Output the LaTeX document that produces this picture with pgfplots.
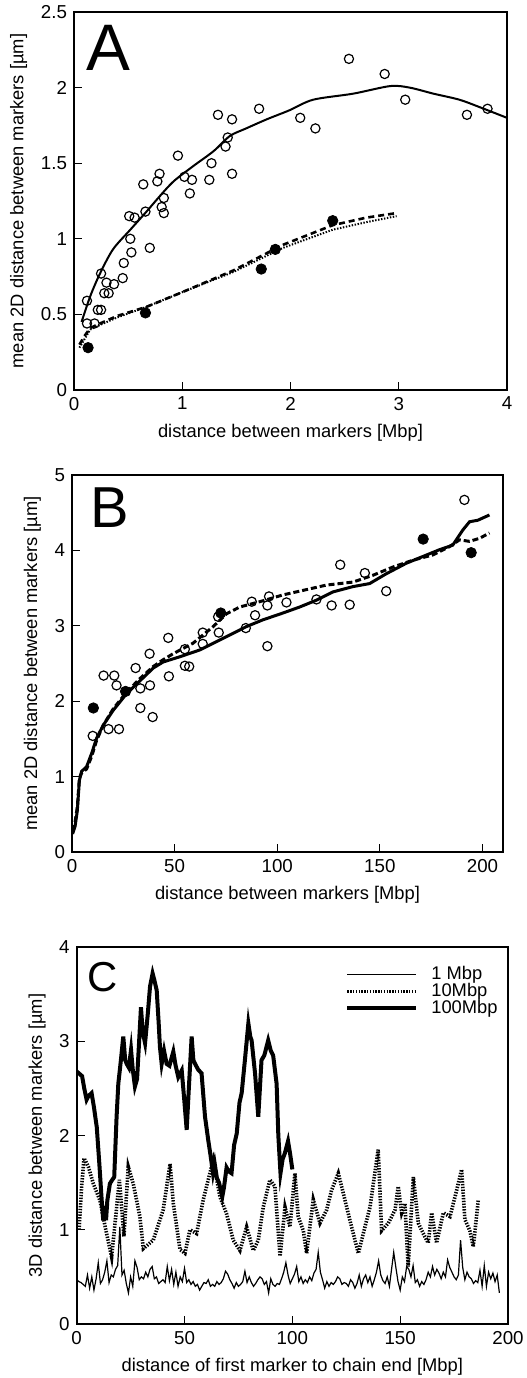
\documentclass[border=0pt]{standalone}
\usepackage{fontspec}
\setmainfont{Liberation Sans}
\usepackage{pgfplots}
\pgfplotsset{compat=1.18}

\pgfplotsset{
  panel/.style={
    scale only axis,
    axis line style={line width=1.1bp},
    tick pos=left, tick align=inside,
    major tick length=4bp,
    every tick/.style={black, line width=0.5bp},
    tick label style={font=\fontsize{9.4}{10}\selectfont},
    label style={font=\fontsize{9.2}{11}\selectfont},
    /pgf/number format/assume math mode=true,
    anchor=south west,
  },
  opencirc/.style={only marks, mark=o, mark size=2.3bp, mark options={line width=0.6bp, black}},
  fullcirc/.style={only marks, mark=*, mark size=2.6bp, mark options={black, fill=black}},
}

\begin{document}
\begin{tikzpicture}
\path[use as bounding box] (0,0) rectangle (263.5bp,-689bp);

% ---- A ----
\begin{axis}[panel, at={(37bp,-195bp)}, width=216.5bp, height=189bp,
  xmin=0, xmax=4, ymin=0, ymax=2.5,
  xtick={0,1,2,3,4}, ytick={0,0.5,1,1.5,2,2.5},
  xlabel={distance between markers [Mbp]},
  ylabel={mean 2D distance between markers [µm]}]
\addplot[opencirc] coordinates {
  (2.54,2.19)(2.87,2.09)(3.06,1.92)(3.63,1.82)(3.82,1.86)(1.71,1.86)(2.09,1.80)
  (2.23,1.73)(1.33,1.82)(1.46,1.79)(1.42,1.67)(1.40,1.61)(1.27,1.50)(1.46,1.43)
  (1.25,1.39)(0.96,1.55)(1.02,1.41)(1.09,1.39)(1.07,1.30)(0.79,1.43)(0.77,1.38)
  (0.64,1.36)(0.83,1.27)(0.81,1.21)(0.83,1.17)(0.66,1.18)(0.51,1.15)(0.56,1.14)
  (0.52,1.00)(0.70,0.94)(0.53,0.91)(0.46,0.84)(0.45,0.74)(0.25,0.77)(0.30,0.71)
  (0.37,0.70)(0.28,0.64)(0.32,0.64)(0.12,0.59)(0.22,0.53)(0.25,0.53)(0.12,0.44)
  (0.19,0.44)};
\addplot[fullcirc] coordinates {
  (2.39,1.12)(1.86,0.93)(1.73,0.80)(0.66,0.51)(0.13,0.28)};
\addplot[black, line width=1bp, smooth] coordinates {
  (0.07,0.45)(0.15,0.62)(0.24,0.77)(0.36,0.93)(0.52,1.06)(0.67,1.18)(0.79,1.28)
  (0.92,1.38)(1.10,1.48)(1.29,1.58)(1.44,1.68)(1.59,1.73)(1.78,1.79)(1.99,1.85)
  (2.21,1.92)(2.58,1.96)(2.92,2.01)(3.10,2.00)(3.32,1.96)(3.56,1.92)(3.75,1.87)
  (4.0,1.80)};
\addplot[black, line width=1.3bp, dash pattern=on 3bp off 2bp] coordinates {
  (0.05,0.30)(0.10,0.36)(0.15,0.41)(0.24,0.44)(0.40,0.49)(0.67,0.55)(1.01,0.65)
  (1.47,0.79)(1.93,0.96)(2.39,1.09)(2.70,1.14)(2.98,1.17)};
\addplot[black, line width=1bp, dash pattern=on 0.7bp off 0.8bp] coordinates {
  (0.05,0.28)(0.10,0.34)(0.15,0.40)(0.24,0.43)(0.40,0.48)(0.67,0.55)(1.01,0.65)
  (1.47,0.78)(1.93,0.94)(2.39,1.06)(2.70,1.11)(2.98,1.15)};
\node[anchor=north west, inner sep=0pt, font=\fontsize{33}{33}\selectfont]
  at (rel axis cs:0.028,0.966) {A};
\end{axis}

% ---- B ----
\begin{axis}[panel, at={(36bp,-426bp)}, width=215.5bp, height=188.5bp,
  xmin=0, xmax=210, ymin=0, ymax=5,
  xtick={0,50,100,150,200}, ytick={0,1,2,3,4,5},
  xlabel={distance between markers [Mbp]},
  ylabel={mean 2D distance between markers [µm]}]
\addplot[opencirc] coordinates {
  (191.2,4.67)(130.7,3.81)(142.7,3.70)(153.1,3.46)(119.1,3.35)(126.5,3.27)
  (135.3,3.28)(104.5,3.31)(96.0,3.39)(95.2,3.27)(87.6,3.32)(89.2,3.14)(84.7,2.97)
  (95.2,2.73)(71.5,2.91)(63.7,2.91)(63.7,2.76)(46.9,2.84)(55.0,2.69)(55.0,2.47)
  (57.1,2.46)(37.8,2.63)(31.0,2.44)(15.4,2.34)(20.6,2.34)(47.2,2.33)(71.2,3.12)
  (21.7,2.21)(38.0,2.21)(33.3,2.17)(33.3,1.91)(39.3,1.79)(17.8,1.63)(22.9,1.63)
  (10.1,1.54)};
\addplot[fullcirc] coordinates {
  (171.1,4.15)(194.5,3.97)(72.5,3.17)(10.4,1.91)(26.1,2.13)};
\addplot[black, line width=1.5bp] coordinates {
  (0.3,0.24)(1.5,0.34)(2.6,0.55)(3.6,0.95)(4.7,1.07)(7.1,1.13)(9.6,1.31)(12,1.51)
  (15.2,1.68)(20.1,1.88)(26.6,2.10)(33.1,2.27)(39.6,2.44)(44.4,2.52)(52.6,2.59)
  (62.3,2.68)(70.4,2.79)(78.5,2.90)(85,2.99)(93.1,3.08)(102.8,3.17)(111,3.25)
  (119.1,3.34)(127.2,3.45)(136.9,3.52)(145,3.56)(153.1,3.69)(162.9,3.83)
  (171,3.92)(179.1,4.01)(185.5,4.07)(190.4,4.27)(193.7,4.38)(197.7,4.40)
  (203.4,4.47)};
\addplot[black, line width=1.5bp, dash pattern=on 3bp off 1.5bp] coordinates {
  (0.3,0.28)(1.5,0.40)(2.6,0.60)(3.6,0.98)(4.7,1.05)(7.1,1.10)(9.6,1.27)(12,1.48)
  (15.2,1.68)(20.1,1.90)(26.6,2.12)(33.1,2.30)(39.6,2.46)(44.4,2.55)(49.3,2.63)
  (59,2.77)(68.8,2.99)(75.3,3.16)(81.8,3.25)(91.5,3.32)(102.8,3.41)(114.2,3.48)
  (123.9,3.54)(136.9,3.58)(146.6,3.67)(156.4,3.78)(166.1,3.87)(175.8,3.94)
  (183.9,4.05)(188.8,4.14)(193.7,4.12)(198.5,4.16)(203.4,4.23)};
\node[anchor=north west, inner sep=0pt, font=\fontsize{29}{29}\selectfont]
  at (rel axis cs:0.042,0.968) {B};
\end{axis}

% ---- C ----
\begin{axis}[panel, at={(38.35bp,-662bp)}, width=215.65bp, height=188.5bp,
  xmin=0, xmax=200, ymin=0, ymax=4,
  xtick={0,50,100,150,200}, ytick={0,1,2,3,4},
  xlabel={distance of first marker to chain end [Mbp]},
  ylabel={3D distance between markers [µm]},
  legend style={draw=none, fill=none, at={(rel axis cs:0.622,0.96)}, anchor=north west,
    font=\fontsize{9.2}{11}\selectfont, row sep=-3.75bp, inner sep=0pt,
    /tikz/every odd column/.append style={column sep=4.5bp}},
  legend cell align=left,
  legend image code/.code={\draw[#1] (0bp,0bp) -- (34.5bp,0bp);}]
\addplot[black, line width=0.6bp] coordinates {
  (0,0.47)(1,0.45)(2,0.44)(3,0.42)(4,0.40)(5,0.52)(6,0.38)(7,0.50)(8,0.36)(9,0.48)
  (10,0.65)(11,0.43)(12,0.47)(13,0.55)(14,0.67)(15,0.44)(16,0.52)(17,0.50)(18,0.58)
  (19,0.62)(20,1.03)(21,0.52)(22,0.57)(23,0.43)(24,0.33)(25,0.50)(26,0.40)(27,0.67)
  (28,0.60)(29,0.47)(30,0.50)(31,0.48)(32,0.55)(33,0.50)(34,0.58)(35,0.61)(36,0.48)
  (37,0.50)(38,0.43)(39,0.45)(40,0.47)(41,0.44)(42,0.61)(43,0.46)(44,0.58)(45,0.42)
  (46,0.55)(47,0.40)(48,0.50)(49,0.45)(50,0.59)(51,0.44)(52,0.47)(53,0.42)(54,0.45)
  (55,0.40)(56,0.42)(57,0.36)(58,0.40)(59,0.44)(60,0.43)(61,0.47)(62,0.40)(63,0.42)
  (64,0.40)(65,0.45)(66,0.42)(67,0.44)(68,0.48)(69,0.56)(70,0.53)(71,0.47)(72,0.43)
  (73,0.38)(74,0.44)(75,0.40)(76,0.42)(77,0.45)(78,0.56)(79,0.44)(80,0.50)(81,0.44)
  (82,0.40)(83,0.43)(84,0.47)(85,0.50)(86,0.48)(87,0.42)(88,0.45)(89,0.33)(90,0.48)
  (91,0.42)(92,0.40)(93,0.43)(94,0.42)(95,0.48)(96,0.55)(97,0.65)(98,0.52)(99,0.43)
  (100,0.48)(101,0.53)(102,0.61)(103,0.45)(104,0.50)(105,0.43)(106,0.47)(107,0.44)
  (108,0.50)(109,0.46)(110,0.54)(111,0.58)(112,0.76)(113,0.55)(114,0.47)(115,0.38)
  (116,0.45)(117,0.40)(118,0.44)(119,0.42)(120,0.45)(121,0.50)(122,0.48)(123,0.42)
  (124,0.44)(125,0.43)(126,0.40)(127,0.47)(128,0.44)(129,0.38)(130,0.43)(131,0.52)
  (132,0.40)(133,0.48)(134,0.52)(135,0.44)(136,0.50)(137,0.40)(138,0.47)(139,0.55)
  (140,0.67)(141,0.52)(142,0.46)(143,0.43)(144,0.50)(145,0.40)(146,0.58)(147,0.76)
  (148,0.60)(149,0.45)(150,0.36)(151,0.50)(152,0.45)(153,0.61)(154,0.58)(155,0.50)
  (156,0.62)(157,0.44)(158,0.47)(159,0.40)(160,0.45)(161,0.42)(162,0.47)(163,0.55)
  (164,0.50)(165,0.61)(166,0.52)(167,0.58)(168,0.54)(169,0.48)(170,0.55)(171,0.50)
  (172,0.68)(173,0.60)(174,0.55)(175,0.50)(176,0.47)(177,0.52)(178,0.89)(179,0.60)
  (180,0.47)(181,0.55)(182,0.50)(183,0.48)(184,0.43)(185,0.46)(186,0.44)(187,0.57)
  (188,0.40)(189,0.62)(190,0.40)(191,0.55)(192,0.48)(193,0.54)(194,0.45)(195,0.52)
  (196,0.33)};
\addlegendentry{1 Mbp}
\addplot[black, line width=1.8bp, dash pattern=on 0.7bp off 0.7bp] coordinates {
  (1.1,1.00)(2.3,1.46)(3.4,1.76)(5.4,1.67)(7.7,1.49)(10.8,1.31)(13.5,1.00)(16.2,0.71)
  (19.8,1.53)(21.9,0.93)(23.9,1.67)(26.2,1.49)(29.3,1.14)(30.9,0.80)(35.5,0.89)
  (40.1,1.21)(43.3,1.70)(44.8,1.28)(47.9,0.79)(50.2,0.75)(52.5,1.00)(55.6,0.96)
  (58.7,1.32)(61.0,1.53)(63.3,1.74)(66.4,1.35)(69.5,1.17)(72.6,0.89)(75.7,0.78)
  (78.8,1.03)(81.9,0.78)(84.2,0.89)(86.5,1.24)(89.6,1.53)(91.9,1.46)(94.3,0.72)
  (96.6,1.24)(98.9,1.03)(101.2,1.60)(102.7,1.14)(105.1,0.99)(106.6,0.75)(109.7,1.32)
  (112.8,1.07)(115.9,1.21)(118.2,1.42)(121.3,1.60)(123.6,1.39)(126.7,1.10)(130.6,0.75)
  (132.9,0.96)(136.0,1.24)(139.8,1.85)(141.4,0.99)(144.5,1.07)(147.6,1.21)(149.1,1.46)
  (150.7,1.18)(152.2,1.28)(153.7,0.61)(156.1,1.56)(158.4,1.07)(160.7,0.96)(163.0,0.86)
  (164.6,1.18)(166.9,0.86)(170.0,1.18)(173.1,1.14)(176.2,1.42)(178.5,1.64)(180.0,1.11)
  (182.3,0.99)(183.9,0.82)(186.2,1.31)};
\addlegendentry{10Mbp}
\addplot[black, line width=2bp] coordinates {
  (0,2.68)(1,2.66)(2.5,2.63)(3.5,2.50)(4.6,2.38)(5.5,2.42)(6.9,2.45)(8,2.30)(9.3,2.09)
  (10.5,1.70)(11.6,1.31)(12.3,1.10)(13.1,1.25)(13.6,1.10)(14.2,1.31)(15.4,1.49)
  (16.5,1.53)(17.4,1.56)(18.5,2.20)(19.3,2.55)(20.5,2.80)(21.6,3.05)(22.5,2.80)
  (23.2,2.76)(24.2,2.72)(25.2,2.91)(26,2.70)(27,2.52)(28,2.60)(29.8,3.36)(30.6,3.10)
  (31.7,2.98)(33,3.30)(34,3.58)(35.2,3.72)(36,3.65)(37.1,3.54)(38,3.20)(38.6,2.94)
  (39.4,2.76)(40.5,2.90)(41.7,2.76)(43,2.74)(44.8,2.89)(45.8,2.75)(47.1,2.62)
  (48.7,2.69)(49.8,2.40)(51,2.06)(52,2.50)(53.3,3.05)(54.1,2.80)(54.9,2.76)(56.3,2.70)
  (57.9,2.66)(59.5,2.20)(61,1.95)(62,1.80)(63.2,1.60)(64,1.70)(65,1.55)(66,1.50)
  (67.5,1.35)(68.3,1.45)(69.5,1.66)(70.5,1.62)(71.8,1.60)(73,1.90)(74.2,2.02)
  (75.5,2.35)(76.5,2.45)(78,2.80)(79.6,3.19)(80.5,3.05)(81.1,3.01)(82.7,2.66)
  (84.2,2.20)(85.7,2.80)(87,2.85)(88.8,3.01)(90,2.90)(91.1,2.85)(92.7,2.55)(93.5,2.00)
  (94.5,1.60)(95.5,1.75)(96.5,1.81)(98,1.94)(99,1.80)(100,1.64)};
\addlegendentry{100Mbp}
\node[anchor=north west, inner sep=0pt, font=\fontsize{21}{21}\selectfont]
  at (rel axis cs:0.025,0.96) {C};
\end{axis}
\end{tikzpicture}
\end{document}
